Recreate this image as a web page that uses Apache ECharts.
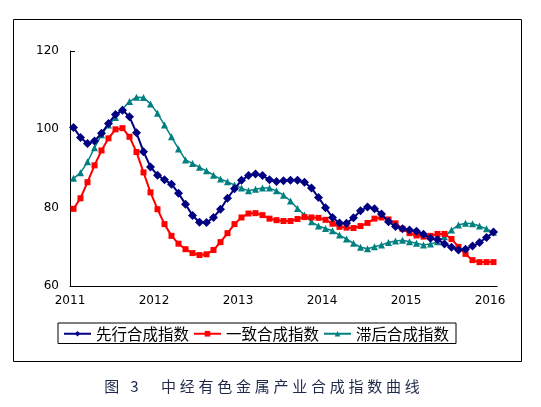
<!DOCTYPE html>
<html>
<head>
<meta charset="utf-8">
<script src="https://cdn.jsdelivr.net/npm/echarts@6/dist/echarts.min.js"></script>
<style>html,body{margin:0;padding:0;background:#fff}#c{width:541px;height:407px}</style>
</head>
<body>
<div id="c"></div>
<script>
// Monthly data 2011-01 .. 2016-01
var months = [];
for (var y = 2011; y <= 2016; y++) { for (var m = 1; m <= 12; m++) { if (y === 2016 && m > 1) break; months.push(y + '-' + (m < 10 ? '0' + m : m)); } }
var yearLabels = ['2011', '2012', '2013', '2014', '2015', '2016'];
var seriesNames = ['先行合成指数', '一致合成指数', '滞后合成指数'];

var leading = [100.5, 97.9, 96.4, 97.0, 99.0, 101.5, 103.8, 104.9, 103.2, 99.1, 94.3, 90.4,
  88.3, 87.1, 86.0, 83.7, 80.9, 78.0, 76.3, 76.2, 77.5, 79.6, 82.4, 84.8,
  87.0, 88.2, 88.6, 88.2, 87.1, 86.7, 86.9, 87.0, 87.0, 86.5, 85.0, 82.6,
  80.0, 77.5, 76.1, 76.0, 77.4, 79.2, 80.2, 79.7, 78.4, 76.4, 75.2, 74.6,
  74.3, 74.0, 73.2, 72.2, 71.9, 70.7, 69.9, 69.2, 69.4, 70.2, 71.1, 72.4, 73.8];
var coincident = [79.7, 82.4, 86.5, 90.8, 94.6, 97.7, 100.0, 100.3, 98.1, 94.2, 89.0, 83.9,
  79.6, 75.8, 72.8, 70.8, 69.4, 68.4, 67.9, 68.1, 69.2, 71.2, 73.5, 75.8,
  77.5, 78.5, 78.6, 78.1, 77.2, 76.8, 76.6, 76.6, 77.1, 77.6, 77.5, 77.4,
  76.9, 75.9, 75.1, 74.9, 74.8, 75.3, 76.1, 77.2, 77.5, 77.0, 76.0, 74.6,
  73.5, 72.9, 72.6, 72.8, 73.3, 73.3, 72.0, 70.0, 68.2, 66.6, 66.1, 66.1, 66.1];
var lagging = [87.5, 88.9, 91.7, 95.3, 98.6, 101.1, 103.0, 105.2, 107.1, 108.2, 108.1, 106.5,
  104.1, 101.1, 98.1, 95.0, 92.2, 91.3, 90.3, 89.4, 88.3, 87.3, 86.6, 85.8,
  85.0, 84.3, 84.7, 85.0, 85.0, 84.3, 83.2, 81.7, 79.8, 78.1, 76.4, 75.3,
  74.7, 74.1, 73.0, 72.0, 70.9, 69.9, 69.5, 70.0, 70.5, 71.1, 71.5, 71.7,
  71.3, 70.9, 70.5, 70.7, 71.3, 72.6, 74.3, 75.6, 76.0, 75.9, 75.3, 74.6, 73.7];
var caption = '图 3　中经有色金属产业合成指数曲线';

var chart = echarts.init(document.getElementById('c'));
var capText = caption.split('').join('\u2005');
chart.setOption({
  animation: false,
  backgroundColor: '#fff',
  textStyle: { fontFamily: 'DejaVu Sans' },
  grid: { left: 70, right: 44, top: 51, bottom: 121 },
  legend: {
    left: 58, top: 323,
    padding: [3, 7, 2, 5],
    borderColor: '#000', borderWidth: 1,
    itemWidth: 27, itemHeight: 7, itemGap: 4,
    textStyle: { fontFamily: 'Noto Sans CJK SC', fontSize: 15.5, color: '#000' },
    data: seriesNames
  },
  xAxis: {
    type: 'category',
    data: months,
    boundaryGap: true,
    axisLine: { lineStyle: { color: '#000', width: 1 } },
    axisTick: { inside: true, interval: 11, length: 5, alignWithLabel: false, lineStyle: { color: '#000' } },
    axisLabel: {
      interval: 11, margin: 9, color: '#000', fontSize: 12, fontFamily: 'DejaVu Sans',
      formatter: function (v, i) { return '{a|' + yearLabels[i / 12] + '}'; },
      rich: { a: { padding: [0, 7, 0, 0], fontSize: 12, color: '#000', fontFamily: 'DejaVu Sans' } }
    },
    splitLine: { show: false }
  },
  yAxis: {
    type: 'value', min: 60, max: 120, interval: 20,
    axisLine: { show: true, lineStyle: { color: '#000', width: 1 } },
    axisTick: { show: true, inside: true, length: 5, lineStyle: { color: '#000' } },
    axisLabel: { margin: 11, color: '#000', fontSize: 12, fontFamily: 'DejaVu Sans' },
    splitLine: { show: false }
  },
  series: [
    { name: seriesNames[0], type: 'line', data: leading, symbol: 'diamond', symbolSize: 9, showAllSymbol: true,
      itemStyle: { color: '#000080' }, lineStyle: { color: '#000080', width: 2 }, z: 3 },
    { name: seriesNames[1], type: 'line', data: coincident, symbol: 'rect', symbolSize: 6, showAllSymbol: true,
      itemStyle: { color: '#ff0000' }, lineStyle: { color: '#ff0000', width: 2 }, z: 2 },
    { name: seriesNames[2], type: 'line', data: lagging, symbol: 'triangle', symbolSize: 7, showAllSymbol: true,
      itemStyle: { color: '#008080' }, lineStyle: { color: '#008080', width: 1.5 }, z: 1 }
  ],
  graphic: [
    { type: 'rect', shape: { x: 13.5, y: 19.5, width: 508, height: 342 }, style: { fill: null, stroke: '#000', lineWidth: 1 }, z: -1 },
    { type: 'text', x: 262, y: 386, style: { text: capText, fill: '#1f2a4a', font: '15px "Noto Sans CJK SC"', textAlign: 'center', textVerticalAlign: 'middle' } }
  ]
});
</script>
</body>
</html>
